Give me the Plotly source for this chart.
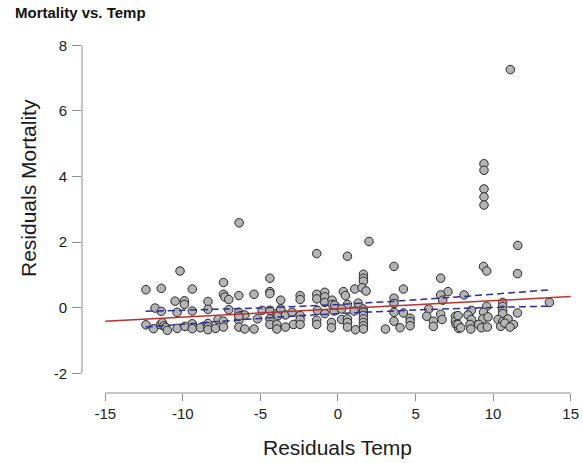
import plotly.graph_objects as go

# ---- data ----
resid_temp = [
    -12.38, -11.39, -10.18, -9.39, -10.50, -9.90, -9.90, -8.38, -11.79, -11.39,
    -10.37, -9.39, -8.38, -12.38, -11.90, -11.44, -11.32, -11.22, -11.10, -11.00,
    -10.37, -9.86, -9.39, -9.39, -8.87, -8.38, -8.38, -8.38, -7.89,
    -7.38, -7.38, -7.29, -7.04, -6.39, -5.41, -6.37, -4.39, -4.39, -4.39,
    -3.69, -2.44, -2.44, -1.37, -1.37, -1.37, -0.85, -0.85, -0.85, -0.38,
    -0.38, -7.04, -6.39, -6.22, -6.01, -4.89, -4.39, -3.94, -3.86, -3.69,
    -3.38, -2.96, -2.44, -1.32, -0.85, -0.25, -7.73, -7.38, -7.38, -6.39,
    -6.39, -6.01, -5.41, -5.19, -4.39, -4.39, -3.94, -3.94, -3.38, -2.87,
    -2.44, -2.44, -1.37, -1.37, -0.42, -0.42, -6.39,
    0.61, 2.00, 3.61, 6.62, 1.64, 1.64, 1.64, 1.08, 1.55, 1.81,
    0.35, 0.48, 4.22, 7.09, 6.62, 6.75, 0.61, 1.30, 3.61, 3.61,
    -0.21, 1.64, 1.64, 1.64, 1.64, 1.64, 1.64, 1.64, 0.23, 1.04,
    0.23, 0.61, 0.61, 0.61, 1.13, 3.61, 4.22, 3.61, 4.65, 4.65,
    4.65, 4.00, 3.06, 5.85, 5.72, 6.15, 6.15, 6.62, 6.71, 7.57,
    7.57, 7.61, 7.78,
    11.11, 9.41, 9.41, 9.41, 9.41, 9.41, 11.59, 9.38, 9.59, 11.57,
    8.13, 13.63, 9.59, 10.62, 10.62, 10.62, 10.62, 8.60, 9.38, 11.57,
    7.74, 8.38, 8.60, 9.33, 9.67, 10.32, 10.62, 10.96, 11.31, 7.74,
    7.91, 8.51, 8.56, 9.07, 9.25, 9.63, 10.49, 10.75, 11.09,
]
resid_mort = [
    0.55, 0.59, 1.12, 0.57, 0.20, 0.21, 0.10, 0.19, -0.01, -0.11,
    -0.14, -0.10, -0.05, -0.52, -0.64, -0.52, -0.46, -0.55, -0.60, -0.69,
    -0.63, -0.57, -0.49, -0.64, -0.61, -0.48, -0.58, -0.67, -0.63,
    0.77, 0.41, 0.33, 0.25, 0.37, 0.41, 2.59, 0.90, 0.49, 0.43,
    0.23, 0.37, 0.25, 1.65, 0.41, 0.27, 0.47, 0.33, 0.16, 0.23,
    0.10, -0.06, -0.14, -0.24, -0.22, -0.08, -0.08, -0.18, -0.24, -0.04,
    -0.22, -0.14, -0.24, -0.08, -0.18, -0.10, -0.36, -0.41, -0.59, -0.38,
    -0.59, -0.65, -0.65, -0.34, -0.34, -0.51, -0.51, -0.65, -0.59, -0.51,
    -0.36, -0.51, -0.38, -0.51, -0.45, -0.61, -0.26,
    1.57, 2.02, 1.26, 0.90, 1.02, 0.90, 0.81, 0.57, 0.61, 0.51,
    0.49, 0.37, 0.57, 0.49, 0.39, 0.23, 0.10, 0.14, 0.29, 0.13,
    0.08, -0.04, -0.14, -0.23, -0.34, -0.45, -0.55, -0.65, -0.04, -0.10,
    -0.36, -0.34, -0.45, -0.59, -0.67, -0.14, -0.16, -0.41, -0.32, -0.42,
    -0.55, -0.61, -0.65, -0.04, -0.26, -0.41, -0.57, -0.20, -0.36, -0.26,
    -0.41, -0.51, -0.63,
    7.26, 4.39, 4.19, 3.62, 3.38, 3.13, 1.90, 1.26, 1.12, 1.04,
    0.39, 0.16, 0.04, 0.16, 0.04, -0.08, -0.18, -0.08, -0.14, -0.16,
    -0.24, -0.22, -0.36, -0.34, -0.28, -0.36, -0.42, -0.34, -0.51, -0.51,
    -0.61, -0.51, -0.65, -0.51, -0.61, -0.59, -0.57, -0.47, -0.59,
]

# fitted regression line (end points) and its confidence band
fit_x = [-15, 15]
fit_y = [-0.41, 0.34]
band_x = [-12.4, -8, -4, 0, 4, 8, 13.7]
band_upper = [-0.11, -0.05, 0.01, 0.10, 0.21, 0.34, 0.55]
band_lower = [-0.59, -0.43, -0.29, -0.18, -0.09, -0.02, 0.05]

x_ticks = [-15, -10, -5, 0, 5, 10, 15]
x_tick_labels = ["-15", "-10", "-5", "0", "5", "10", "15"]
y_ticks = [-2, 0, 2, 4, 6, 8]
y_tick_labels = ["-2", "0", "2", "4", "6", "8"]

title_text = "Mortality vs. Temp"
x_title = "Residuals Temp"
y_title = "Residuals Mortality"

FONT = "Liberation Sans, Arial, sans-serif"
AXIS_GRAY = "#8c8c8c"

fig = go.Figure()
fig.add_trace(go.Scatter(
    x=resid_temp, y=resid_mort, mode="markers",
    marker=dict(size=8.5, color="#b4b4b4", line=dict(color="#262626", width=1)),
    hoverinfo="x+y", showlegend=False,
))
fig.add_trace(go.Scatter(
    x=fit_x, y=fit_y, mode="lines",
    line=dict(color="#b8312f", width=1.5), showlegend=False,
))
for yy in (band_upper, band_lower):
    fig.add_trace(go.Scatter(
        x=band_x, y=yy, mode="lines", line_shape="spline",
        line=dict(color="#2b2b9b", width=1.5, dash="7px,4px"), showlegend=False,
    ))

W, H = 583, 463
L, R, T, B = 82, 3, 35, 70
PW, PH = W - L - R, H - T - B
fig.update_layout(
    width=W, height=H,
    margin=dict(l=L, r=R, t=T, b=B),
    paper_bgcolor="white", plot_bgcolor="white",
    font=dict(family=FONT, color="#1a1a1a"),
    xaxis=dict(
        range=[-16.5, 15.6], tickvals=x_ticks, ticktext=x_tick_labels,
        ticks="outside", ticklen=7, tickwidth=1, tickcolor=AXIS_GRAY,
        showgrid=False, zeroline=False, showline=False,
        tickfont=dict(size=15, family=FONT, color="#1a1a1a"),
    ),
    yaxis=dict(
        range=[-2.6, 8.315], tickvals=y_ticks, ticktext=y_tick_labels,
        ticks="outside", ticklen=9, tickwidth=1, tickcolor=AXIS_GRAY,
        showgrid=False, zeroline=False, showline=False, ticklabelstandoff=2,
        tickfont=dict(size=15, family=FONT, color="#1a1a1a"),
    ),
    shapes=[
        dict(type="line", xref="x", yref="paper", x0=x_ticks[0], x1=x_ticks[-1],
             y0=0, y1=0, line=dict(color=AXIS_GRAY, width=1)),
        dict(type="line", xref="paper", yref="y", x0=0, x1=0,
             y0=y_ticks[0], y1=y_ticks[-1], line=dict(color=AXIS_GRAY, width=1)),
    ],
    annotations=[
        dict(text="<b>" + title_text + "</b>", xref="paper", yref="paper",
             x=(13 - L) / PW, y=1 + (T - 12) / PH,
             xanchor="left", yanchor="middle", showarrow=False,
             font=dict(size=15, family=FONT, color="#111111")),
        dict(text=x_title, xref="x", yref="paper", x=0,
             y=-(447 - (H - B)) / PH,
             xanchor="center", yanchor="middle", showarrow=False,
             font=dict(size=21, family=FONT, color="#1a1a1a")),
        dict(text=y_title, xref="paper", yref="paper", textangle=-90,
             x=(28 - L) / PW, y=((H - B) - 188) / PH,
             xanchor="center", yanchor="middle", showarrow=False,
             font=dict(size=21, family=FONT, color="#1a1a1a")),
    ],
)

fig.write_html(
    "out.html",
    config={"displayModeBar": False},
    post_script="document.body.style.margin='0';document.body.style.overflow='hidden';",
)
